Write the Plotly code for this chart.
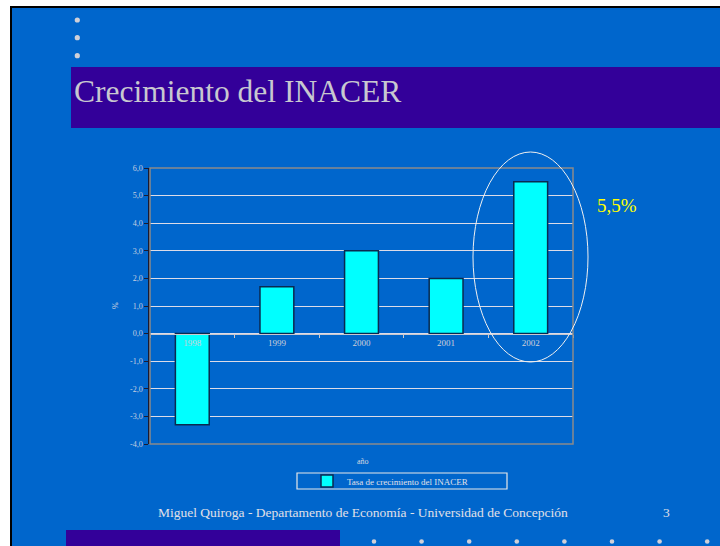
import plotly.graph_objects as go

# ---- data ----
years = ["1998", "1999", "2000", "2001", "2002"]
growth = [-3.3, 1.7, 3.0, 2.0, 5.5]
y_ticks = [6, 5, 4, 3, 2, 1, 0, -1, -2, -3, -4]
y_ticklabels = ["6,0", "5,0", "4,0", "3,0", "2,0", "1,0", "0,0", "-1,0", "-2,0", "-3,0", "-4,0"]
series_name = "Tasa de crecimiento del INACER"
title_text = "Crecimiento del INACER"
footer_text = "Miguel Quiroga - Departamento de Economía - Universidad de Concepción"
page_no = "3"
highlight_text = "5,5%"

W, H = 720, 546
L, R, T, B = 150, 573, 168, 444  # plot area in pixels
YMIN, YMAX = -4, 6

def px(x):
    return (x - L) / (R - L)

def py(y):
    return (B - y) / (B - T)

BLUE = "#0066CC"
PURPLE = "#330099"
FONT = "Liberation Serif"

fig = go.Figure()
fig.add_trace(go.Bar(
    x=years, y=growth, name=series_name,
    marker=dict(color="#00FFFF", line=dict(color="#0a2a50", width=1.5)),
    width=0.4, showlegend=True,
))

shapes = []
# page background and border
shapes.append(dict(type="rect", xref="paper", yref="paper", x0=px(10), x1=px(W + 5), y0=py(H + 5), y1=py(6),
                   fillcolor="#000000", line=dict(width=0), layer="below"))
shapes.append(dict(type="rect", xref="paper", yref="paper", x0=px(12), x1=px(W + 5), y0=py(H + 5), y1=py(8),
                   fillcolor=BLUE, line=dict(width=0), layer="below"))
# title band
shapes.append(dict(type="rect", xref="paper", yref="paper", x0=px(71), x1=px(W + 5), y0=py(128), y1=py(67),
                   fillcolor=PURPLE, line=dict(width=0), layer="below"))
# bottom band
shapes.append(dict(type="rect", xref="paper", yref="paper", x0=px(66), x1=px(340), y0=py(H + 5), y1=py(530),
                   fillcolor=PURPLE, line=dict(width=0), layer="below"))
# bullets top-left
for by in [20, 37.7, 55.7]:
    r = 2.6
    shapes.append(dict(type="circle", xref="paper", yref="paper", x0=px(77.3 - r), x1=px(77.3 + r),
                       y0=py(by + r), y1=py(by - r), fillcolor="#d0d0d8", line=dict(width=0), layer="below"))
# bottom dots
for i in range(8):
    cx = 374 + 47.6 * i
    r = 2.3
    shapes.append(dict(type="circle", xref="paper", yref="paper", x0=px(cx - r), x1=px(cx + r),
                       y0=py(541.5 + r), y1=py(541.5 - r), fillcolor="#d0d0d8", line=dict(width=0), layer="below"))
# plot border (gray)
shapes.append(dict(type="rect", xref="paper", yref="paper", x0=0, x1=1, y0=0, y1=1,
                   line=dict(color="#8a8a8a", width=1.5), layer="above"))
# legend box
shapes.append(dict(type="rect", xref="paper", yref="paper", x0=px(297), x1=px(507), y0=py(489), y1=py(473),
                   line=dict(color="#e8e8e8", width=1.2), layer="above"))
# highlight ellipse
shapes.append(dict(type="circle", xref="paper", yref="paper", x0=px(473), x1=px(588), y0=py(362), y1=py(152),
                   line=dict(color="#f0f0f0", width=1), layer="above"))

annotations = [
    dict(text=title_text, xref="paper", yref="paper", x=px(72), y=py(91), xanchor="left", yanchor="middle",
         showarrow=False, font=dict(family=FONT, size=31.5, color="#c8c8d0")),
    dict(text=footer_text, xref="paper", yref="paper", x=px(363), y=py(512), xanchor="center", yanchor="middle",
         showarrow=False, font=dict(family=FONT, size=13.5, color="#e0e0e8")),
    dict(text=page_no, xref="paper", yref="paper", x=px(666), y=py(512), xanchor="center", yanchor="middle",
         showarrow=False, font=dict(family=FONT, size=13.5, color="#e0e0e8")),
    dict(text=highlight_text, xref="paper", yref="paper", x=px(595), y=py(205), xanchor="left", yanchor="middle",
         showarrow=False, font=dict(family=FONT, size=19, color="#ffff00")),
    dict(text="año", xref="paper", yref="paper", x=px(363), y=py(461), xanchor="center", yanchor="middle",
         showarrow=False, font=dict(family=FONT, size=8, color="#d8d8e0")),
    dict(text="%", xref="paper", yref="paper", x=px(115), y=py(306), xanchor="center", yanchor="middle",
         textangle=-90, showarrow=False, font=dict(family=FONT, size=8, color="#d8d8e0")),
]

fig.update_layout(
    width=W, height=H,
    margin=dict(l=L, r=W - R, t=T, b=H - B, pad=0),
    paper_bgcolor="#ffffff", plot_bgcolor="rgba(0,0,0,0)",
    font=dict(family=FONT, color="#d8d8e0"),
    bargap=0.6,
    shapes=shapes, annotations=annotations,
    showlegend=True,
    legend=dict(x=px(390), y=py(481), xanchor="center", yanchor="middle", orientation="h",
                bgcolor="rgba(0,0,0,0)", borderwidth=0, font=dict(family=FONT, size=9, color="#e0e0e8"),
                itemwidth=30),
    xaxis=dict(
        anchor="free", position=py(B - (0 - YMIN) / (YMAX - YMIN) * (B - T)),
        showline=True, linecolor="#c8c8d0", linewidth=1.2,
        ticks="outside", ticklen=3, tickcolor="#c8c8d0", tickson="boundaries",
        showgrid=False, zeroline=False,
        tickfont=dict(family=FONT, size=9, color="#d0d0d8"),
    ),
    yaxis=dict(
        range=[YMIN, YMAX], tickvals=y_ticks, ticktext=y_ticklabels,
        showline=True, linecolor="#1a1a30", linewidth=1.5,
        ticks="outside", ticklen=4, tickcolor="#1a1a30",
        showgrid=True, gridcolor="#dcdce8", gridwidth=1,
        zeroline=False,
        tickfont=dict(family=FONT, size=8, color="#c8d0e0"),
    ),
)

fig.write_html("out.html", config={"displayModeBar": False},
               post_script="document.body.style.margin='0';document.body.style.overflow='hidden';")
